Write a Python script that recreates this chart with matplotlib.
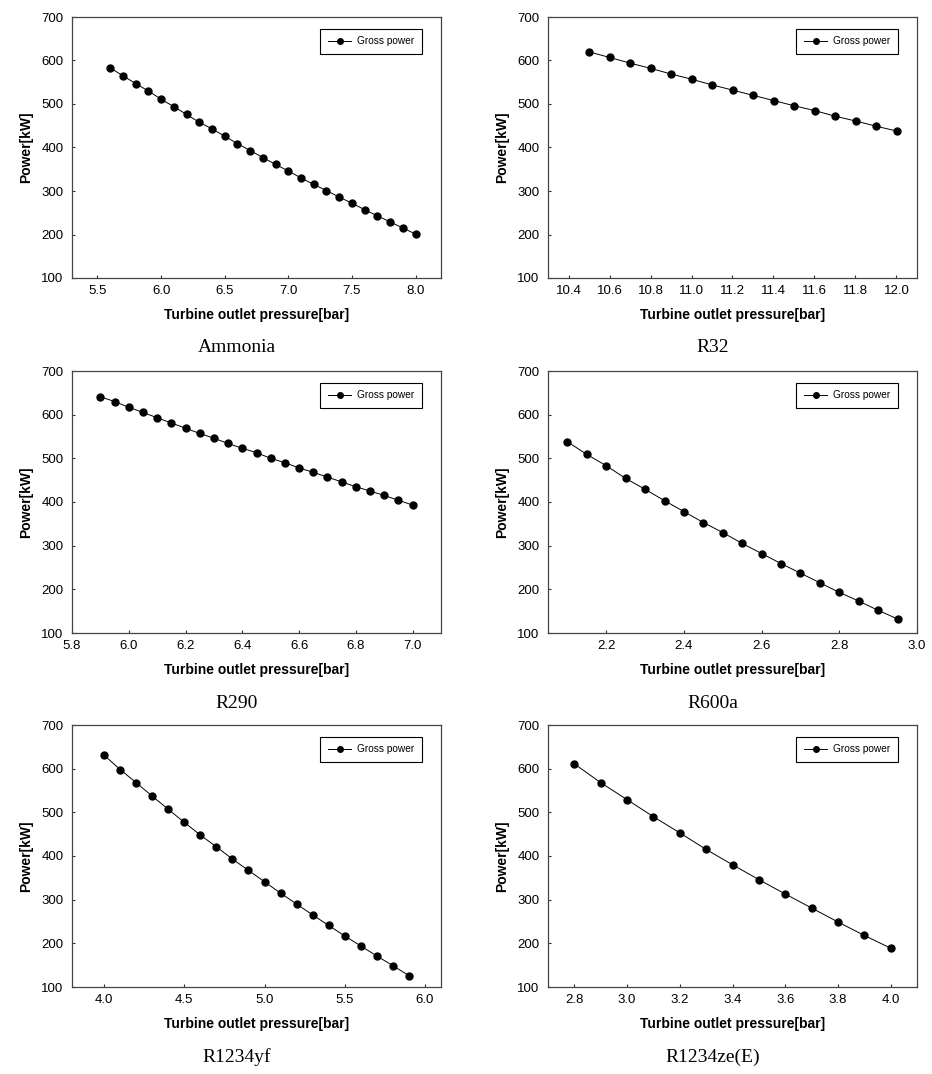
import matplotlib.pyplot as plt
import numpy as np

# Gross power vs turbine outlet pressure for six working fluids
fluids = ['Ammonia', 'R32', 'R290', 'R600a', 'R1234yf', 'R1234ze(E)']

p_ammonia = [5.6, 5.7, 5.8, 5.9, 6.0, 6.1, 6.2, 6.3, 6.4, 6.5, 6.6, 6.7, 6.8,
             6.9, 7.0, 7.1, 7.2, 7.3, 7.4, 7.5, 7.6, 7.7, 7.8, 7.9, 8.0]
w_ammonia = [583, 565, 547, 530, 511, 494, 476, 458, 443, 426, 409, 393, 377,
             361, 346, 330, 315, 301, 286, 272, 257, 243, 229, 215, 201]

p_r32 = [10.5, 10.6, 10.7, 10.8, 10.9, 11.0, 11.1, 11.2, 11.3, 11.4, 11.5,
         11.6, 11.7, 11.8, 11.9, 12.0]
w_r32 = [620, 607, 594, 582, 569, 557, 544, 532, 520, 508, 496, 485, 472,
         461, 449, 438]

p_r290 = [5.90, 5.95, 6.00, 6.05, 6.10, 6.15, 6.20, 6.25, 6.30, 6.35, 6.40,
          6.45, 6.50, 6.55, 6.60, 6.65, 6.70, 6.75, 6.80, 6.85, 6.90, 6.95, 7.00]
w_r290 = [641, 630, 617, 605, 593, 581, 569, 557, 546, 534, 523, 513, 500,
          490, 478, 468, 457, 446, 435, 425, 415, 404, 393]

p_r600a = [2.10, 2.15, 2.20, 2.25, 2.30, 2.35, 2.40, 2.45, 2.50, 2.55, 2.60,
           2.65, 2.70, 2.75, 2.80, 2.85, 2.90, 2.95]
w_r600a = [538, 509, 483, 454, 429, 403, 378, 353, 330, 305, 282, 259, 237,
           215, 193, 173, 152, 132]

p_r1234yf = [4.0, 4.1, 4.2, 4.3, 4.4, 4.5, 4.6, 4.7, 4.8, 4.9, 5.0, 5.1, 5.2,
             5.3, 5.4, 5.5, 5.6, 5.7, 5.8, 5.9]
w_r1234yf = [631, 598, 568, 537, 507, 477, 448, 421, 393, 367, 341, 315, 290,
             265, 241, 217, 194, 171, 149, 126]

p_r1234ze = [2.8, 2.9, 3.0, 3.1, 3.2, 3.3, 3.4, 3.5, 3.6, 3.7, 3.8, 3.9, 4.0]
w_r1234ze = [611, 568, 529, 490, 453, 415, 380, 346, 313, 281, 249, 218, 189]

pressures = [p_ammonia, p_r32, p_r290, p_r600a, p_r1234yf, p_r1234ze]
powers = [w_ammonia, w_r32, w_r290, w_r600a, w_r1234yf, w_r1234ze]

xlims = [(5.3, 8.2), (10.3, 12.1), (5.8, 7.1), (2.05, 3.0), (3.8, 6.1), (2.7, 4.1)]
xticks = [np.arange(5.5, 8.01, 0.5), np.arange(10.4, 12.01, 0.2),
          np.arange(5.8, 7.01, 0.2), np.arange(2.2, 3.01, 0.2),
          np.arange(4.0, 6.01, 0.5), np.arange(2.8, 4.01, 0.2)]

plt.rcParams['font.family'] = ['Liberation Sans', 'DejaVu Sans']

W, H = 932, 1074
fig = plt.figure(figsize=(W / 100, H / 100), dpi=100)

# axes boxes in pixels (left, top, right, bottom)
col_x = [(72, 441), (548, 917)]
row_y = [(17, 278), (371, 633), (725, 987)]
caption_x = [237, 713]

for i, name in enumerate(fluids):
    r, c = divmod(i, 2)
    x0, x1 = col_x[c]
    y0, y1 = row_y[r]
    ax = fig.add_axes([x0 / W, 1 - y1 / H, (x1 - x0) / W, (y1 - y0) / H])
    ax.plot(pressures[i], powers[i], color='black', lw=0.7, marker='o',
            markersize=5, label='Gross power')
    ax.set_xlim(*xlims[i])
    ax.set_ylim(100, 700)
    ax.set_xticks(xticks[i])
    ax.set_xticklabels([f"{t:.1f}" for t in xticks[i]])
    ax.set_yticks(range(100, 701, 100))
    ax.tick_params(direction='in', length=2.5, width=0.8, labelsize=9.5,
                   color='#333333')
    ax.tick_params(axis='x', pad=5)
    ax.tick_params(axis='y', pad=6)
    for s in ax.spines.values():
        s.set_color('#444444')
        s.set_linewidth(0.9)
    ax.set_xlabel('Turbine outlet pressure[bar]', fontsize=10,
                  fontweight='bold', labelpad=8)
    ax.set_ylabel('Power[kW]', fontsize=10, fontweight='bold', labelpad=6)
    leg = ax.legend(loc='upper right', fontsize=7.3, fancybox=False,
                    framealpha=1, edgecolor='black', markerscale=0.8,
                    handlelength=2.3, borderpad=0.75, handletextpad=0.6,
                    bbox_to_anchor=(0.963, 0.975))
    leg.get_frame().set_linewidth(0.8)
    fig.text(caption_x[c] / W, 1 - (y1 + 70) / H, name, ha='center',
             va='center', fontsize=14,
             family=['Liberation Serif', 'DejaVu Serif'])

plt.savefig("out.png", dpi=100)
